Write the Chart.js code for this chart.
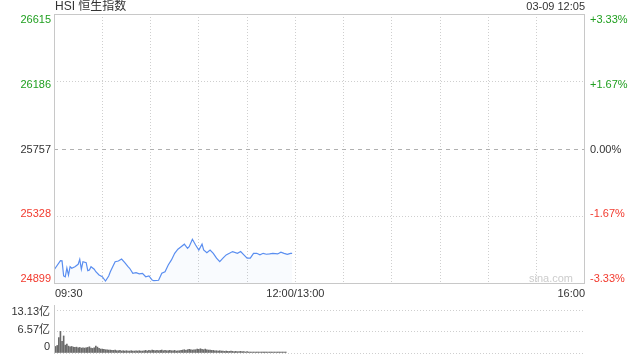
<!DOCTYPE html>
<html><head><meta charset="utf-8">
<script src="https://cdn.jsdelivr.net/npm/chart.js@4"></script>
<style>
html,body{margin:0;padding:0;background:#fff;width:640px;height:360px;overflow:hidden}
#c1{position:absolute;left:0;top:0}
#c2{position:absolute;left:0;top:300px}
</style></head><body>
<canvas id="c1" width="640" height="300"></canvas>
<canvas id="c2" width="640" height="60"></canvas>
<script>
const title = 'HSI 恒生指数';
const stamp = '03-09 12:05';
const watermark = 'sina.com';
const prevClose = 25757;
const priceTicks = [24899, 25328, 25757, 26186, 26615];
const pctLabels = ['-3.33%', '-1.67%', '0.00%', '+1.67%', '+3.33%'];
const timeLabelText = ['09:30', '12:00/13:00', '16:00'];
const timeLabelMinute = [0, 150, 330];
const gridMinutes = [0, 30, 60, 90, 120, 150, 180, 210, 240, 270, 300, 330];
const sessionMinutes = 330;

// minutes after 09:30 and index level
const priceMinute = [0,4,5,6,7,8,9,10,11,13,15,16,17,18,20,21,22,23,25,26,28,30,32,34,35,37,38,40,42,44,46,47,49,51,53,55,57,59,61,62,65,67,69,71,73,75,77,79,81,83,84,86,88,90,92,93,95,97,99,101,103,105,107,109,111,114,116,118,120,122,124,126,128,130,132,134,136,139,141,143,145,147,148];
const priceValue = [24988,25048,25046,24950,24945,25001,24956,25009,24999,25009,25024,25056,24993,25041,25035,24984,24988,25009,24993,24977,24956,24945,24918,24950,24977,25020,25041,25045,25058,25035,25009,24999,24967,24971,24963,24967,24945,24950,24924,24920,24923,24967,24977,25020,25052,25094,25120,25136,25152,25126,25136,25183,25147,25115,25152,25115,25098,25115,25094,25063,25041,25063,25084,25094,25105,25094,25105,25084,25063,25063,25094,25094,25084,25094,25088,25090,25094,25090,25101,25094,25088,25094,25094];

// volume per minute (亿)
const volume = [1.6,2.0,2.3,4.7,6.6,3.6,5.2,2.4,2.7,2.1,1.9,2.0,1.8,1.7,1.8,1.6,1.7,1.5,1.6,1.5,1.6,1.7,1.9,1.5,1.4,1.6,2.1,1.8,1.4,1.2,1.2,1.1,1.0,1.0,0.9,0.9,0.8,0.8,0.9,0.7,0.7,0.8,0.6,0.7,0.6,0.7,0.6,0.6,0.7,0.6,0.6,0.7,0.6,0.7,0.6,0.6,0.7,0.8,0.6,0.8,0.7,0.9,0.8,0.7,0.8,0.7,0.8,0.9,0.7,0.8,0.7,0.7,0.8,0.7,0.7,0.8,0.6,0.7,0.7,0.8,0.9,1.0,0.8,1.0,1.1,1.0,0.9,1.0,1.0,1.2,1.1,1.3,1.1,1.0,1.2,1.0,0.9,0.9,0.8,0.8,0.7,0.7,0.6,0.7,0.6,0.6,0.5,0.6,0.5,0.5,0.6,0.5,0.4,0.5,0.4,0.4,0.5,0.4,0.4,0.3,0.4,0.3,0.3,0.3,0.3,0.3,0.3,0.3,0.3,0.3,0.3,0.3,0.3,0.3,0.3,0.3,0.3,0.3,0.3,0.3,0.3,0.3,0.3,0.3,0.3];
const volTicks = [0, 6.57, 13.13];
const volLabels = ['0', '6.57亿', '13.13亿'];

const FONT = '"Liberation Sans", Arial, "Noto Sans CJK SC", sans-serif';
const GREEN = '#1f9f1f', RED = '#f23a2e', DARK = '#333';
const GRID = '#cfcfcf', FRAME = '#c8c8c8';

function colorFor(v) { return v > prevClose ? GREEN : (v < prevClose ? RED : DARK); }

const priceDecor = {
  id: 'priceDecor',
  beforeDatasetsDraw(chart) {
    const ctx = chart.ctx, a = chart.chartArea, ys = chart.scales.y;
    const yb = Math.round(ys.getPixelForValue(prevClose)) + 0.5;
    ctx.save();
    ctx.strokeStyle = '#b0b0b0'; ctx.lineWidth = 1; ctx.setLineDash([4, 4]);
    ctx.beginPath(); ctx.moveTo(a.left, yb); ctx.lineTo(a.right, yb); ctx.stroke();
    ctx.restore();
  },
  afterDraw(chart) {
    const ctx = chart.ctx, a = chart.chartArea, ys = chart.scales.y, xs = chart.scales.x;
    ctx.save();
    ctx.strokeStyle = FRAME; ctx.lineWidth = 1; ctx.setLineDash([]);
    ctx.strokeRect(Math.round(a.left) + 0.5, Math.round(a.top) + 0.5, Math.round(a.right - a.left) - 1, Math.round(a.bottom - a.top) - 1);
    ctx.font = '11px ' + FONT; ctx.textBaseline = 'middle';
    const t0 = a.top + 6, t1 = a.bottom - 5;
    priceTicks.forEach((v, i) => {
      const p = ys.getPixelForValue(v);
      const f = (p - a.top) / (a.bottom - a.top);
      const ly = t0 + f * (t1 - t0);
      ctx.fillStyle = colorFor(v);
      ctx.textAlign = 'right'; ctx.fillText(String(v), a.left - 3, ly);
      ctx.textAlign = 'left'; ctx.fillText(pctLabels[i], a.right + 5, ly);
    });
    ctx.fillStyle = DARK;
    timeLabelText.forEach((t, i) => {
      const x = xs.getPixelForValue(timeLabelMinute[i]);
      ctx.textAlign = i === 0 ? 'left' : (i === timeLabelText.length - 1 ? 'right' : 'center');
      ctx.fillText(t, i === 0 ? x + 1 : x, a.bottom + 10);
    });
    ctx.font = '12px ' + FONT; ctx.textAlign = 'left'; ctx.fillStyle = DARK;
    ctx.fillText(title, a.left + 1, 7);
    ctx.font = '11px ' + FONT; ctx.textAlign = 'right';
    ctx.fillText(stamp, a.right, 7);
    ctx.fillStyle = '#cccccc'; ctx.textAlign = 'right';
    ctx.fillText(watermark, a.right - 12, a.bottom - 5);
    ctx.restore();
  }
};

new Chart(document.getElementById('c1'), {
  type: 'line',
  data: {
    datasets: [{
      data: priceMinute.map((m, i) => ({ x: m, y: priceValue[i] })),
      borderColor: '#5a8ef0', borderWidth: 1.2, pointRadius: 0, tension: 0,
      fill: 'start', backgroundColor: 'rgba(90,142,240,0.035)'
    }]
  },
  options: {
    responsive: false, devicePixelRatio: 1, animation: false,
    layout: { padding: { left: 0, right: 55, top: 14, bottom: 0 } },
    plugins: { legend: { display: false }, tooltip: { enabled: false } },
    scales: {
      x: {
        type: 'linear', min: 0, max: sessionMinutes,
        afterBuildTicks: s => { s.ticks = gridMinutes.map(v => ({ value: v })); },
        afterFit: s => { s.height = 16; },
        ticks: { display: false },
        grid: { drawTicks: false, color: c => (c.tick && (c.tick.value === 0 || c.tick.value === sessionMinutes)) ? 'rgba(0,0,0,0)' : GRID },
        border: { display: false, dash: [1, 2] }
      },
      y: {
        type: 'linear', min: priceTicks[0], max: priceTicks[priceTicks.length - 1],
        afterBuildTicks: s => { s.ticks = priceTicks.map(v => ({ value: v })); },
        afterFit: s => { s.width = 54; },
        ticks: { display: false },
        grid: { drawTicks: false, color: c => (c.tick && (c.tick.value === prevClose || c.tick.value === priceTicks[0] || c.tick.value === priceTicks[priceTicks.length - 1])) ? 'rgba(0,0,0,0)' : GRID },
        border: { display: false, dash: [1, 2] }
      }
    }
  },
  plugins: [priceDecor]
});

const volDecor = {
  id: 'volDecor',
  afterDraw(chart) {
    const ctx = chart.ctx, a = chart.chartArea, ys = chart.scales.y;
    ctx.save();
    ctx.strokeStyle = FRAME; ctx.lineWidth = 1;
    const x = Math.round(a.left) + 0.5;
    ctx.beginPath(); ctx.moveTo(x, a.top - 5); ctx.lineTo(x, a.bottom); ctx.stroke();
    ctx.font = '11px ' + FONT; ctx.textBaseline = 'middle'; ctx.textAlign = 'right'; ctx.fillStyle = DARK;
    const t0 = a.top + 2, t1 = a.bottom - 6;
    volTicks.forEach((v, i) => {
      const p = ys.getPixelForValue(v);
      const f = (p - a.top) / (a.bottom - a.top);
      ctx.fillText(volLabels[i], a.left - 4, t0 + f * (t1 - t0));
    });
    ctx.restore();
  }
};

new Chart(document.getElementById('c2'), {
  type: 'bar',
  data: {
    datasets: [{
      data: volume.map((v, i) => ({ x: i, y: v })),
      backgroundColor: '#6a6a6a', barThickness: 1, borderWidth: 0
    }]
  },
  options: {
    responsive: false, devicePixelRatio: 1, animation: false,
    layout: { padding: { left: 0, right: 55, top: 10, bottom: 0 } },
    plugins: { legend: { display: false }, tooltip: { enabled: false } },
    scales: {
      x: {
        type: 'linear', min: 0, max: sessionMinutes, offset: false,
        afterFit: s => { s.height = 7; },
        ticks: { display: false },
        grid: { display: false, offset: false },
        border: { display: false }
      },
      y: {
        type: 'linear', min: 0, max: volTicks[volTicks.length - 1],
        afterBuildTicks: s => { s.ticks = volTicks.map(v => ({ value: v })); },
        afterFit: s => { s.width = 54; },
        ticks: { display: false },
        grid: { drawTicks: false, color: GRID },
        border: { display: false, dash: [1, 2] }
      }
    }
  },
  plugins: [volDecor]
});
</script>
</body></html>
